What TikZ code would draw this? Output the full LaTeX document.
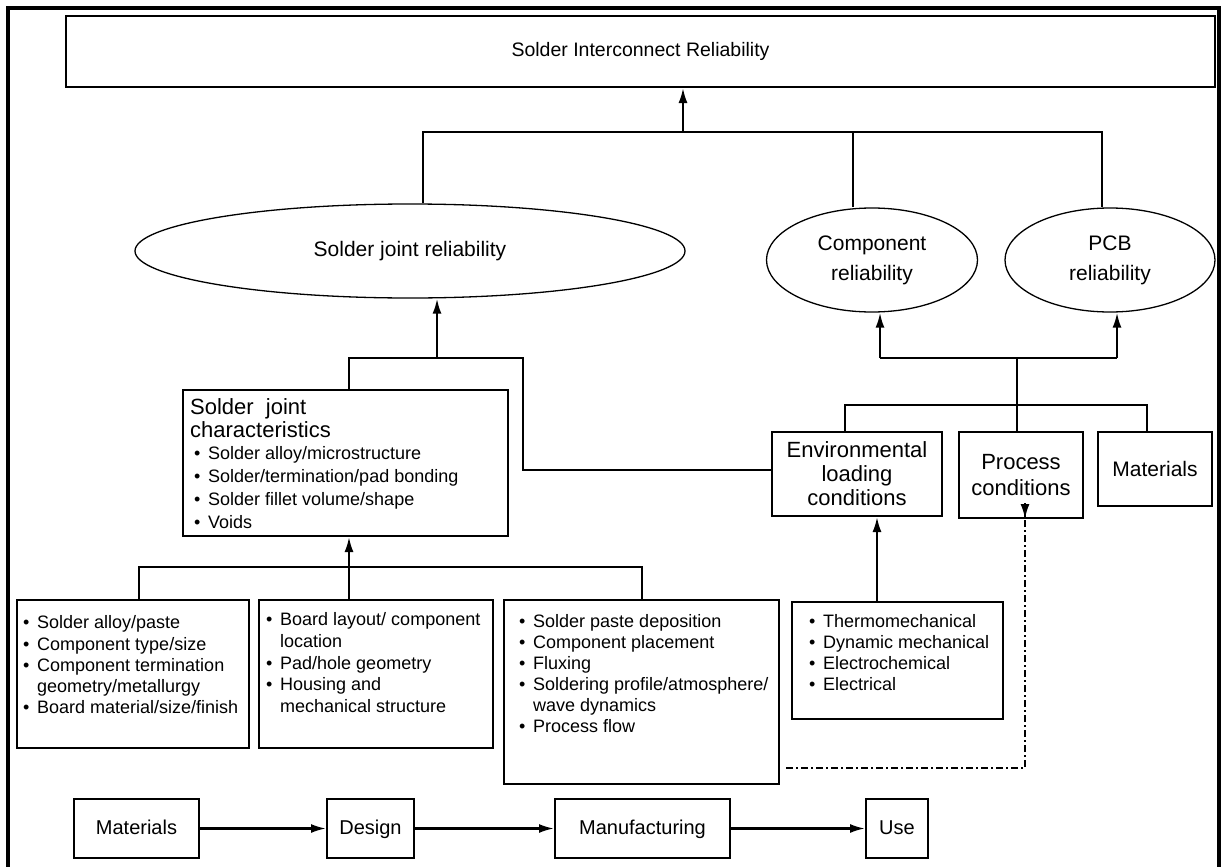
\documentclass[tikz,border=0pt]{standalone}
\usepackage{fontspec}
\setmainfont{Liberation Sans}
\usetikzlibrary{shapes.geometric,arrows.meta}
\newcommand{\myb}[1]{\makebox[14pt][l]{\textbullet}#1}
\newcommand{\myc}[1]{\hspace*{14pt}#1}
\begin{document}
\begin{tikzpicture}[x=1pt,y=-1pt,
  box/.style={draw, rectangle, line width=2pt, inner sep=0pt, align=center},
  oval/.style={draw, ellipse, line width=1.3pt, inner sep=0pt, align=center},
  txt/.style={anchor=north west, inner sep=0pt, align=left},
  flow/.style={box, minimum height=59pt, text height=15pt, text depth=4pt, font=\fontsize{20}{24}\selectfont},
  conn/.style={line width=1.9pt},
  arr/.style={line width=2.2pt, -{Latex[length=15pt,width=9pt]}},
  dashdot/.style={line width=2pt, dash pattern=on 7pt off 3pt on 2pt off 3pt}]
\useasboundingbox (0,0) rectangle (1221,867);
% outer frame (open at bottom)
\draw[line width=4pt] (8,867) -- (8,8) -- (1219,8) -- (1219,867);

% top box
\node[box, minimum width=1149pt, minimum height=71pt, font=\fontsize{19.5}{22}\selectfont] (top) at (640.5,51.5) {Solder Interconnect Reliability};

% ellipses
\node[oval, minimum width=550pt, minimum height=94pt, font=\fontsize{21}{24}\selectfont] (sjr) at (410,251) {Solder joint reliability};
\node[oval, minimum width=211pt, minimum height=104pt, font=\fontsize{21}{30}\selectfont] (comp) at (872,260) {Component\\reliability};
\node[oval, minimum width=210pt, minimum height=104pt, font=\fontsize{21}{30}\selectfont] (pcb) at (1110,260) {PCB\\reliability};

% solder joint characteristics
\node[box, minimum width=325pt, minimum height=146pt] (sjc) at (345.5,463) {};
\node[txt, font=\fontsize{22}{23}\selectfont] (sjch) at (190,398) {Solder~~joint\\characteristics};
\node[txt, font=\fontsize{18}{23}\selectfont] (sjcl) at (194,446) {\myb{Solder alloy/microstructure}\\\myb{Solder/termination/pad bonding}\\\myb{Solder fillet volume/shape}\\\myb{Voids}};

% condition boxes
\node[box, minimum width=170pt, minimum height=84pt, font=\fontsize{22}{24}\selectfont] (env) at (857,474) {Environmental\\loading\\conditions};
\node[box, minimum width=124pt, minimum height=86pt, font=\fontsize{22}{26}\selectfont] (proc) at (1021,475) {Process\\conditions};
\node[box, minimum width=114pt, minimum height=74pt, font=\fontsize{21}{24}\selectfont] (mat) at (1155,469) {Materials};

% lower boxes
\node[box, minimum width=232pt, minimum height=148pt] (b1) at (133,674) {};
\node[txt, font=\fontsize{18}{21.3}\selectfont] (b1t) at (23,615.5) {\myb{Solder alloy/paste}\\\myb{Component type/size}\\\myb{Component termination}\\\myc{geometry/metallurgy}\\\myb{Board material/size/finish}};
\node[box, minimum width=234pt, minimum height=148pt] (b2) at (376,674) {};
\node[txt, font=\fontsize{18}{21.7}\selectfont] (b2t) at (266,612.5) {\myb{Board layout/ component}\\\myc{location}\\\myb{Pad/hole geometry}\\\myb{Housing and}\\\myc{mechanical structure}};
\node[box, minimum width=275pt, minimum height=184pt] (b3) at (641.5,692) {};
\node[txt, font=\fontsize{18}{21}\selectfont] (b3t) at (519,614) {\myb{Solder paste deposition}\\\myb{Component placement}\\\myb{Fluxing}\\\myb{Soldering profile/atmosphere/}\\\myc{wave dynamics}\\\myb{Process flow}};
\node[box, minimum width=211pt, minimum height=117pt] (b4) at (897.5,660.5) {};
\node[txt, font=\fontsize{18}{21}\selectfont] (b4t) at (809,614) {\myb{Thermomechanical}\\\myb{Dynamic mechanical}\\\myb{Electrochemical}\\\myb{Electrical}};

% bottom flow
\node[flow, minimum width=125pt] (fm) at (136.5,828.5) {Materials};
\node[flow, minimum width=87pt] (fd) at (370.5,828.5) {Design};
\node[flow, minimum width=175pt] (fmf) at (642.5,828.5) {Manufacturing};
\node[flow, minimum width=62pt] (fu) at (897,828.5) {Use};
\draw[arr] (fm) -- (fd);
\draw[arr] (fd) -- (fmf);
\draw[arr] (fmf) -- (fu);

% junction coordinates
\coordinate (jTL) at (423,132);
\coordinate (jTM) at (683,132);
\coordinate (jTC) at (853,132);
\coordinate (jTR) at (1102,132);
\coordinate (jSL) at (349,358);
\coordinate (jSM) at (437,358);
\coordinate (jSR) at (523,358);
\coordinate (jEnv) at (523,470);
\coordinate (jCL) at (880,358);
\coordinate (jCM) at (1017,358);
\coordinate (jCR) at (1117,358);
\coordinate (jE) at (845,405);
\coordinate (jM) at (1147,405);
\coordinate (jB1) at (139,567);
\coordinate (jB2) at (349,567);
\coordinate (jB3) at (642,567);
\coordinate (jB4) at (877,602);
\coordinate (dd1) at (786,768);
\coordinate (dd2) at (1025,768);

% top level connectors
\draw[conn] (jTL |- sjr.north) -- (jTL) -- (jTR) -- (jTR |- pcb.north);
\draw[conn] (jTC) -- (jTC |- comp.north);
\draw[arr] (jTM) -- (jTM |- top.south);

% solder joint level
\draw[conn] (jSL |- sjc.north) -- (jSL) -- (jSR) -- (jEnv) -- (jEnv -| env.west);
\draw[arr] (jSM) -- (jSM |- sjr.south);

% component / pcb level
\draw[conn] (jCL) -- (jCR);
\draw[arr] (jCL) -- (jCL |- comp.south);
\draw[arr] (jCR) -- (jCR |- pcb.south);
\draw[conn] (jCM) -- (jCM |- proc.north);
\draw[conn] (jE |- env.north) -- (jE) -- (jM) -- (jM |- mat.north);

% lower level
\draw[conn] (jB1 |- b1.north) -- (jB1) -- (jB3) -- (jB3 |- b3.north);
\draw[conn] (jB2 |- b2.north) -- (jB2);
\draw[arr] (jB2) -- (jB2 |- sjc.south);
\draw[arr] (jB4 |- b4.north) -- (jB4 |- env.south);

% dash-dot feedback
\draw[dashdot] (dd1) -- (dd2) -- ([yshift=16pt]dd2 |- proc.south);
\draw[arr] ([yshift=16pt]dd2 |- proc.south) -- (dd2 |- proc.south);
\end{tikzpicture}
\end{document}
